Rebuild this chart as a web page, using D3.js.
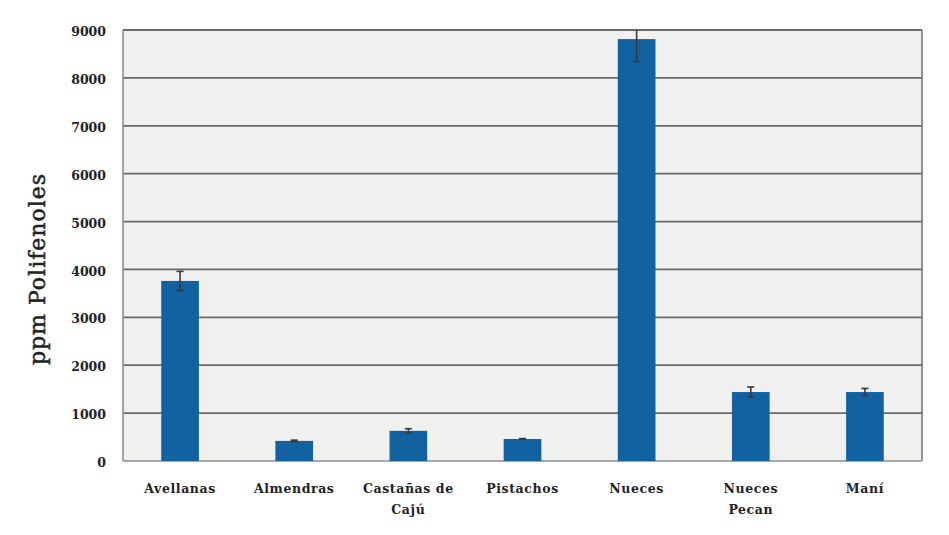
<!DOCTYPE html>
<html>
<head>
<meta charset="utf-8">
<script src="https://cdn.jsdelivr.net/npm/d3@7"></script>
<style>
  body { margin: 0; background: #fff; }
  svg { display: block; }
  .tick text { font-family: 'DejaVu Serif', serif; font-weight: bold; fill: #222; }
</style>
</head>
<body>
<svg id="chart" width="949" height="535"></svg>
<script>
// data
const categories = ['Avellanas', 'Almendras', 'Castañas de\nCajú', 'Pistachos', 'Nueces', 'Nueces\nPecan', 'Maní']
const values = [3760, 420, 630, 460, 8810, 1440, 1440]
const errors = [200, 15, 45, 8, 466, 105, 75]
const yTicks = [0, 1000, 2000, 3000, 4000, 5000, 6000, 7000, 8000, 9000]

const svg = d3.select('#chart')
const margin = { top: 30, right: 27, bottom: 74, left: 123 }
const width = 949 - margin.left - margin.right
const height = 535 - margin.top - margin.bottom

const x = d3.scaleBand().domain(d3.range(categories.length)).range([0, width]).paddingInner(0.67).paddingOuter(0.335)
const y = d3.scaleLinear().domain([0, 9000]).range([height, 0])

svg.append('defs').append('clipPath').attr('id', 'plot-clip')
	.append('rect').attr('width', width).attr('height', height)

const g = svg.append('g').attr('transform', `translate(${margin.left},${margin.top})`)

// plot background
g.append('rect')
	.attr('width', width)
	.attr('height', height)
	.attr('fill', '#f0f0ef')

// gridlines
g.append('g')
	.selectAll('line')
	.data(yTicks.filter(d => d > 0))
	.join('line')
	.attr('x1', 0)
	.attr('x2', width)
	.attr('y1', d => y(d))
	.attr('y2', d => y(d))
	.attr('stroke', '#6a6a6a')
	.attr('stroke-width', 1.8)

// frame
g.append('line').attr('x1', 0).attr('x2', 0).attr('y1', 0).attr('y2', height).attr('stroke', '#8a8a8a').attr('stroke-width', 1.5)
g.append('line').attr('x1', width).attr('x2', width).attr('y1', 0).attr('y2', height).attr('stroke', '#707070').attr('stroke-width', 1.5)
g.append('line').attr('x1', 0).attr('x2', width).attr('y1', height).attr('y2', height).attr('stroke', '#a8a8a8').attr('stroke-width', 1.8)

// bars
g.append('g')
	.selectAll('rect')
	.data(values)
	.join('rect')
	.attr('x', (d, i) => x(i))
	.attr('y', d => y(d))
	.attr('width', x.bandwidth())
	.attr('height', d => height - y(d))
	.attr('fill', '#1262a1')

// error bars
const err = g.append('g').attr('clip-path', 'url(#plot-clip)')
	.selectAll('g')
	.data(values.map((v, i) => ({ v, e: errors[i], i })))
	.join('g')
	.attr('stroke', '#3a3a3a')
	.attr('stroke-width', 1.6)
const cx = d => x(d.i) + x.bandwidth() / 2
err.append('line').attr('x1', cx).attr('x2', cx).attr('y1', d => y(d.v + d.e)).attr('y2', d => y(d.v - d.e))
err.append('line').attr('x1', d => cx(d) - 3.5).attr('x2', d => cx(d) + 3.5).attr('y1', d => y(d.v + d.e)).attr('y2', d => y(d.v + d.e))
err.append('line').attr('x1', d => cx(d) - 3.5).attr('x2', d => cx(d) + 3.5).attr('y1', d => y(d.v - d.e)).attr('y2', d => y(d.v - d.e))

// y axis
const yAxis = g.append('g')
	.call(d3.axisLeft(y).tickValues(yTicks).tickSize(0).tickPadding(17).tickFormat(d3.format('d')))
yAxis.select('.domain').remove()
yAxis.selectAll('text').attr('font-size', 12.5).attr('dy', '0.45em')

// x axis labels, split on newline
const xAxis = g.append('g')
	.attr('transform', `translate(0,${height})`)
	.call(d3.axisBottom(x).tickSize(0).tickFormat(() => ''))
xAxis.select('.domain').remove()
xAxis.selectAll('.tick text')
	.attr('font-size', 12.5)
	.attr('letter-spacing', 0.6)
	.each(function (d) {
		const lines = categories[d].split('\n')
		const t = d3.select(this).text(null).attr('y', null).attr('dy', null)
		lines.forEach((l, k) => {
			t.append('tspan').attr('x', 0).attr('y', 32 + k * 21).text(l)
		})
	})

// y title
svg.append('text')
	.attr('transform', `translate(45,269) rotate(-90)`)
	.attr('text-anchor', 'middle')
	.attr('font-family', 'DejaVu Serif, serif')
	.attr('font-size', 22)
	.attr('letter-spacing', 1)
	.attr('fill', '#222')
	.attr('stroke', '#222')
	.attr('stroke-width', 0.5)
	.text('ppm Polifenoles')
</script>
</body>
</html>
